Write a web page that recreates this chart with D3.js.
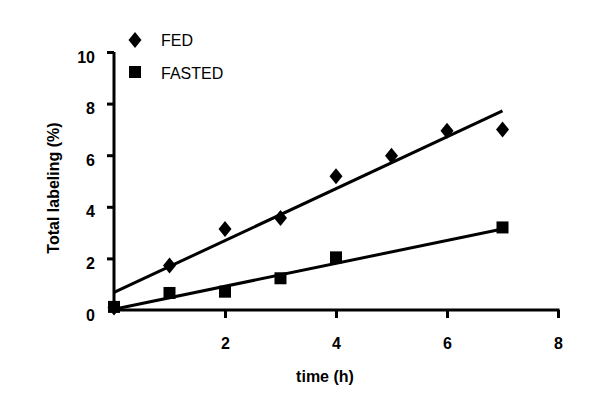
<!DOCTYPE html>
<html><head><meta charset="utf-8">
<script src="https://cdn.jsdelivr.net/npm/d3@7"></script>
<style>body{margin:0;background:#fff;}svg{display:block;}</style>
</head><body>
<script>
const times = [0,1,2,3,4,5,6,7];
const fedValues = [0.1,1.72,3.14,3.57,5.18,5.98,6.95,7.0];
const fastedTimes = [0,1,2,3,4,7];
const fastedValues = [0.12,0.66,0.71,1.23,2.04,3.2];
const fedFit = [[0,0.68],[7,7.72]];
const fastedFit = [[0,0.03],[7,3.14]];
const xTicks = [2,4,6,8];
const yTicks = [0,2,4,6,8,10];

const W=600,H=406;
const svg=d3.select("body").append("svg").attr("width",W).attr("height",H);
const x=d3.scaleLinear().domain([0,8]).range([114,558]);
const y=d3.scaleLinear().domain([0,10]).range([310,52]);
const font="Arial, 'Liberation Sans', sans-serif";

// axes
const xAxis=svg.append("g").attr("transform",`translate(0,${y(0)})`)
  .call(d3.axisBottom(x).tickValues(xTicks).tickSize(8).tickPadding(20).tickSizeOuter(0));
const yAxis=svg.append("g").attr("transform",`translate(${x(0)},0)`)
  .call(d3.axisLeft(y).tickValues(yTicks).tickSize(7).tickPadding(12).tickSizeOuter(0));
[xAxis,yAxis].forEach(a=>{
  a.select(".domain").attr("stroke","#000").attr("stroke-width",3);
  a.selectAll(".tick line").attr("stroke","#000").attr("stroke-width",3);
  a.selectAll(".tick text").attr("font-family",font).attr("font-size",16).attr("font-weight","bold").attr("fill","#000");
});
yAxis.selectAll(".tick text").attr("dy",10);
yAxis.select(".domain").attr("d",`M0,${y(0)+1.5}V${y(10)}`);
yAxis.selectAll(".tick").filter(d=>d===0).select("line").remove();
xAxis.select(".domain").attr("d",`M${x(0)-1.5},0H${x(8)+1.5}`);

// titles
svg.append("text").attr("x",325).attr("y",382).attr("text-anchor","middle")
  .attr("font-family",font).attr("font-size",16).attr("font-weight","bold").text("time (h)");
svg.append("text").attr("transform","translate(59,188) rotate(-90)").attr("text-anchor","middle")
  .attr("font-family",font).attr("font-size",16).attr("font-weight","bold").text("Total labeling (%)");

// fit lines
const line=d3.line().x(d=>x(d[0])).y(d=>y(d[1]));
svg.append("path").attr("d",line(fedFit)).attr("stroke","#000").attr("stroke-width",3).attr("fill","none");
svg.append("path").attr("d",line(fastedFit)).attr("stroke","#000").attr("stroke-width",3).attr("fill","none");

// markers
const diamond=(cx,cy)=>`M${cx},${cy-8}L${cx+6.5},${cy}L${cx},${cy+8}L${cx-6.5},${cy}Z`;
svg.append("g").selectAll("path").data(times.map((t,i)=>[t,fedValues[i]])).join("path")
  .attr("d",d=>diamond(x(d[0]),y(d[1]))).attr("fill","#000");
svg.append("g").selectAll("rect").data(fastedTimes.map((t,i)=>[t,fastedValues[i]])).join("rect")
  .attr("x",d=>x(d[0])-6).attr("y",d=>y(d[1])-6).attr("width",12).attr("height",12).attr("fill","#000");

// legend
svg.append("path").attr("d",diamond(135,40)).attr("fill","#000");
svg.append("rect").attr("x",129).attr("y",66).attr("width",12).attr("height",12).attr("fill","#000");
svg.append("text").attr("x",161).attr("y",46).attr("font-family",font).attr("font-size",16).text("FED");
svg.append("text").attr("x",161).attr("y",79).attr("font-family",font).attr("font-size",16).text("FASTED");
</script>
</body></html>
